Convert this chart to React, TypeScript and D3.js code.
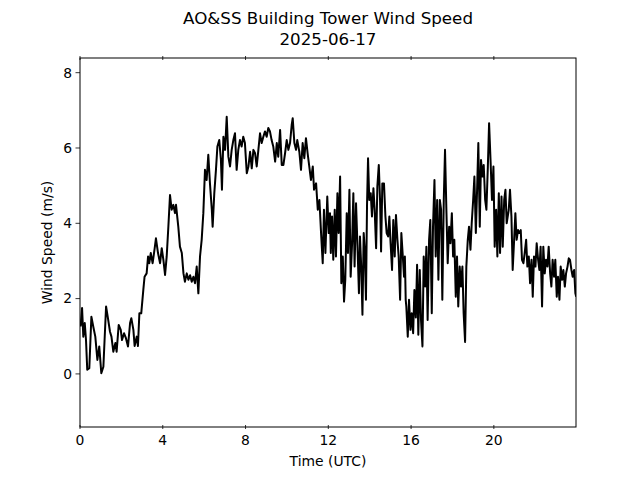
import React from 'react';
import * as d3 from 'd3';

// time of day (hours UTC) and wind speed (m/s)
const hours = [
  0.03, 0.10, 0.16, 0.23, 0.29, 0.35, 0.45, 0.55, 0.64, 0.74, 0.84, 0.93, 1.03, 1.13, 1.26, 1.35, 1.45, 1.52,
  1.61, 1.71, 1.77, 1.87, 1.97, 2.03, 2.13, 2.22, 2.32, 2.42, 2.48, 2.58, 2.64, 2.74, 2.80, 2.87, 2.96, 3.06,
  3.12, 3.22, 3.29, 3.35, 3.42, 3.51, 3.61, 3.67, 3.77, 3.87, 3.95, 4.03, 4.11, 4.19, 4.27, 4.35, 4.43, 4.51,
  4.59, 4.64, 4.75, 4.83, 4.92, 5.00, 5.07, 5.16, 5.24, 5.32, 5.40, 5.48, 5.56, 5.64, 5.72, 5.80, 5.88, 5.96,
  6.04, 6.12, 6.20, 6.28, 6.37, 6.41, 6.49, 6.57, 6.64, 6.73, 6.81, 6.86, 6.93, 7.01, 7.09, 7.17, 7.25, 7.33,
  7.41, 7.49, 7.57, 7.65, 7.73, 7.81, 7.89, 7.97, 8.06, 8.14, 8.22, 8.30, 8.38, 8.46, 8.54, 8.62, 8.70, 8.78,
  8.86, 8.94, 9.02, 9.10, 9.18, 9.26, 9.34, 9.43, 9.51, 9.58, 9.67, 9.75, 9.83, 9.91, 9.99, 10.07, 10.15, 10.23,
  10.28, 10.36, 10.44, 10.50, 10.60, 10.68, 10.76, 10.84, 10.92, 11.00, 11.08, 11.16, 11.25, 11.31, 11.41, 11.49,
  11.57, 11.65, 11.73, 11.79, 11.86, 11.95, 12.02, 12.08, 12.12, 12.18, 12.24, 12.31, 12.37, 12.44, 12.50, 12.57,
  12.63, 12.70, 12.76, 12.82, 12.89, 12.95, 13.02, 13.08, 13.15, 13.21, 13.27, 13.34, 13.42, 13.48, 13.53, 13.59,
  13.65, 13.71, 13.76, 13.82, 13.87, 13.92, 13.98, 14.05, 14.11, 14.18, 14.24, 14.31, 14.37, 14.44, 14.50, 14.55,
  14.61, 14.69, 14.76, 14.82, 14.89, 14.95, 15.01, 15.08, 15.14, 15.21, 15.27, 15.34, 15.40, 15.47, 15.53, 15.60,
  15.66, 15.70, 15.74, 15.77, 15.84, 15.90, 15.97, 16.03, 16.10, 16.16, 16.23, 16.29, 16.35, 16.42, 16.48, 16.55,
  16.61, 16.68, 16.74, 16.80, 16.87, 16.93, 17.00, 17.06, 17.13, 17.19, 17.26, 17.32, 17.39, 17.45, 17.51, 17.58,
  17.64, 17.71, 17.77, 17.84, 17.90, 17.97, 18.03, 18.09, 18.16, 18.22, 18.28, 18.35, 18.41, 18.48, 18.54, 18.61,
  18.67, 18.74, 18.80, 18.87, 18.93, 19.00, 19.06, 19.13, 19.19, 19.25, 19.32, 19.38, 19.45, 19.51, 19.58, 19.64,
  19.71, 19.77, 19.84, 19.91, 19.98, 20.04, 20.11, 20.17, 20.24, 20.30, 20.37, 20.43, 20.50, 20.56, 20.62, 20.72,
  20.78, 20.85, 20.91, 20.98, 21.04, 21.10, 21.17, 21.23, 21.30, 21.36, 21.43, 21.49, 21.56, 21.62, 21.69, 21.75,
  21.82, 21.88, 21.94, 22.01, 22.07, 22.14, 22.20, 22.26, 22.33, 22.39, 22.46, 22.52, 22.59, 22.65, 22.72, 22.78,
  22.84, 22.91, 22.97, 23.04, 23.10, 23.17, 23.23, 23.30, 23.36, 23.43, 23.49, 23.56, 23.62, 23.68, 23.75, 23.81,
  23.88, 23.94, 23.98,
];

const speeds = [
  1.26, 1.75, 0.99, 1.35, 0.90, 0.11, 0.15, 1.52, 1.26, 0.99, 0.37, 0.73, 0.02, 0.19, 1.79, 1.48, 1.12, 0.99,
  0.59, 0.82, 0.59, 1.30, 1.17, 0.90, 1.08, 0.95, 0.73, 1.35, 1.48, 1.17, 0.74, 0.99, 0.74, 1.61, 1.61, 2.23,
  2.58, 2.67, 3.12, 2.94, 3.21, 2.94, 3.34, 3.60, 3.21, 2.94, 3.34, 3.03, 2.63, 3.12, 3.91, 4.75, 4.36, 4.49,
  4.27, 4.49, 3.91, 3.38, 3.21, 2.67, 2.45, 2.67, 2.50, 2.62, 2.45, 2.58, 2.41, 2.85, 2.14, 3.12, 3.56, 4.27,
  5.42, 5.15, 5.82, 5.06, 4.36, 3.91, 4.80, 5.42, 6.04, 6.21, 5.68, 4.89, 6.30, 5.95, 6.83, 5.77, 5.51, 5.95,
  6.21, 6.39, 5.42, 5.95, 6.21, 6.04, 6.30, 6.13, 5.33, 5.51, 5.90, 5.46, 5.95, 5.86, 5.51, 5.95, 6.39, 6.13,
  6.30, 6.44, 6.30, 6.53, 6.44, 6.21, 6.04, 5.64, 6.13, 5.77, 6.48, 5.55, 5.55, 5.86, 6.21, 5.95, 6.13, 6.61,
  6.79, 6.13, 5.95, 6.21, 5.90, 5.42, 6.13, 5.73, 6.26, 5.86, 5.51, 5.15, 5.51, 4.89, 5.06, 4.36,
  4.62, 3.74, 2.94, 4.36, 3.21, 4.71, 3.74, 4.27, 3.21, 4.18, 3.03, 4.36, 3.12, 4.80, 3.74, 5.24,
  2.41, 3.12, 1.92, 2.50, 4.27, 3.21, 4.89, 2.58, 3.47, 4.80, 2.85, 4.53, 3.21, 2.14, 3.65, 2.85,
  1.57, 3.74, 3.30, 1.97, 4.45, 5.73, 4.62, 4.80, 4.18, 4.93, 4.36, 3.34, 4.98, 5.55, 4.62, 3.25,
  5.06, 5.06, 4.18, 3.74, 3.65, 4.18, 3.47, 2.76, 4.09, 3.12, 4.22, 3.56, 3.12, 1.97, 3.74, 3.12,
  2.58, 3.12, 1.97, 1.79, 0.99, 1.97, 1.17, 1.61, 1.08, 2.23, 1.50, 2.90, 1.04, 2.76, 1.43, 0.73,
  3.12, 2.32, 3.38, 1.43, 3.56, 4.09, 1.61, 3.91, 5.15, 3.12, 4.62, 2.50, 4.62, 4.36, 1.97, 4.62,
  5.95, 4.27, 2.94, 3.91, 3.47, 4.27, 3.12, 3.56, 2.05, 3.12, 1.79, 2.85, 2.32, 2.85, 1.61, 0.85,
  2.85, 3.56, 3.91, 3.30, 4.00, 4.62, 5.24, 3.74, 4.89, 6.13, 3.91, 5.68, 5.24, 5.55, 4.62, 4.36,
  5.51, 6.66, 5.68, 4.62, 5.51, 3.38, 4.36, 3.12, 4.80, 3.21, 4.71, 3.38, 4.62, 4.89, 4.00, 4.36,
  4.89, 4.18, 2.76, 3.56, 4.27, 3.56, 3.82, 3.74, 3.82, 3.03, 2.94, 3.21, 3.56, 2.85, 3.12, 2.41,
  3.03, 2.05, 3.12, 2.85, 3.47, 3.03, 2.76, 3.38, 1.79, 3.38, 2.67, 3.03, 2.85, 3.38, 2.67, 2.32,
  3.03, 2.58, 3.03, 2.05, 2.58, 1.97, 2.85, 2.50, 2.76, 2.32, 2.67, 2.85, 3.07, 3.03, 2.76, 2.58,
  2.76, 2.14, 2.05,
];

const xTicks = [0, 4, 8, 12, 16, 20];
const yTicks = [0, 2, 4, 6, 8];

const W = 640;
const H = 480;
const left = 80, right = 576, top = 58, bottom = 427;
const font = 'DejaVu Sans, sans-serif';

export default function App() {
  const x = d3.scaleLinear().domain([0, 23.97]).range([left, right]);
  const y = d3.scaleLinear().domain([-1.41, 8.39]).range([bottom, top]);

  const pts: [number, number][] = hours.map((h, i) => [h, speeds[i]]);
  const line = d3.line<[number, number]>()
    .x(d => x(d[0]))
    .y(d => y(d[1]));

  return (
    <svg width={W} height={H} style={{ position: 'absolute', left: 0, top: 0, background: '#fff' }}
      fontFamily={font}>
      <rect x={0} y={0} width={W} height={H} fill="#fff" />
      <text x={(left + right) / 2} y={24} textAnchor="middle" fontSize={16.7}>AO&amp;SS Building Tower Wind Speed</text>
      <text x={(left + right) / 2} y={45} textAnchor="middle" fontSize={16.7}>2025-06-17</text>

      <defs>
        <clipPath id="plotclip">
          <rect x={left} y={top} width={right - left} height={bottom - top} />
        </clipPath>
      </defs>
      <path d={line(pts) || ''} fill="none" stroke="#000" strokeWidth={2}
        strokeLinejoin="round" clipPath="url(#plotclip)" />

      <rect x={left} y={top} width={right - left} height={bottom - top} fill="none" stroke="#000" strokeWidth={1} />

      {xTicks.map(t => (
        <g key={'x' + t}>
          <line x1={x(t)} x2={x(t)} y1={bottom - 2} y2={bottom + 2} stroke="#000" strokeWidth={0.8} />
          <line x1={x(t)} x2={x(t)} y1={top - 2} y2={top + 2} stroke="#000" strokeWidth={0.8} />
          <text x={x(t)} y={445} textAnchor="middle" fontSize={13.9}>{t}</text>
        </g>
      ))}
      {yTicks.map(t => (
        <g key={'y' + t}>
          <line x1={left - 4.5} x2={left} y1={y(t)} y2={y(t)} stroke="#000" strokeWidth={0.8} />
          <text x={left - 8} y={y(t)} dy="0.35em" textAnchor="end" fontSize={13.9}>{t}</text>
        </g>
      ))}

      <text x={(left + right) / 2} y={466} textAnchor="middle" fontSize={13.9}>Time (UTC)</text>
      <text transform={`translate(52,${(top + bottom) / 2}) rotate(-90)`} textAnchor="middle" fontSize={13.9}>
        Wind Speed (m/s)
      </text>
    </svg>
  );
}
